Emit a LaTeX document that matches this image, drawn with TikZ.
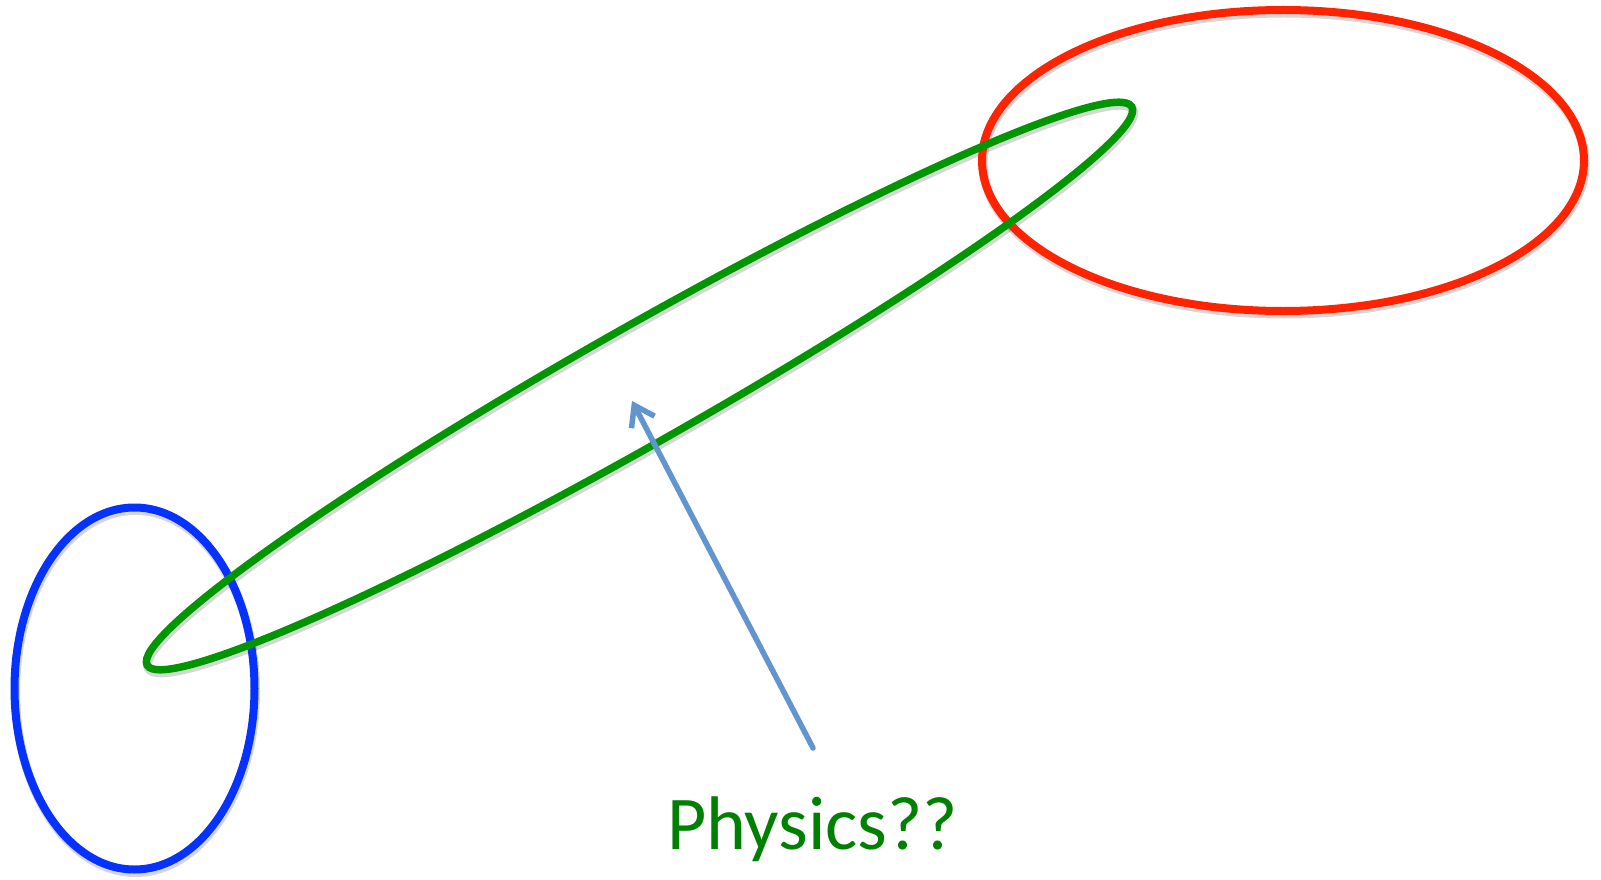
\documentclass[tikz,border=0pt]{standalone}
\usepackage{fontspec}
\setmainfont{Carlito}
\usetikzlibrary{shapes.geometric,arrows.meta}
\definecolor{myblue}{RGB}{5,50,255}
\definecolor{myred}{RGB}{255,35,0}
\definecolor{mygreen}{RGB}{0,150,0}
\definecolor{txtgreen}{RGB}{0,128,0}
\definecolor{arrowblue}{RGB}{98,148,205}
\tikzset{
  oval/.style={ellipse, draw, line width=8pt, inner sep=0pt, outer sep=0pt},
  shade oval/.style={ellipse, draw=black, draw opacity=0.16, line width=9pt, inner sep=0pt, outer sep=0pt, xshift=1pt, yshift=-3pt},
  pointer/.style={draw=arrowblue, line width=5.5pt, line cap=round,
    -{Straight Barb[length=19pt, width=26pt, line width=5.5pt]}},
  label/.style={text=txtgreen, font=\fontsize{76}{90}\selectfont, inner sep=0pt}
}
\begin{document}
\begin{tikzpicture}[x=1pt,y=-1pt]
\useasboundingbox (0,0) rectangle (1601,880);
% soft shadows
\node[shade oval, minimum width=240pt, minimum height=362pt] (sblue) at (134.5,688.5) {};
\node[shade oval, minimum width=602pt, minimum height=301pt] (sred) at (1283,160.5) {};
\node[shade oval, minimum width=1132pt, minimum height=116pt, rotate=29.56] (sgreen) at (639.5,386) {};
% ovals
\node[oval, draw=myblue, minimum width=240pt, minimum height=362pt] (blue) at (134.5,688.5) {};
\node[oval, draw=myred, minimum width=602pt, minimum height=301pt] (red) at (1283,160.5) {};
\node[oval, draw=mygreen, line width=7.5pt, minimum width=1132pt, minimum height=116pt, rotate=29.56] (green) at (639.5,386) {};
\coordinate (tail) at (813,748);
\coordinate (head) at (632,401);
\draw[pointer] (tail) -- (head);
\node[label, anchor=base] (physics) at (812.5,849) {Physics??};
\end{tikzpicture}
\end{document}
